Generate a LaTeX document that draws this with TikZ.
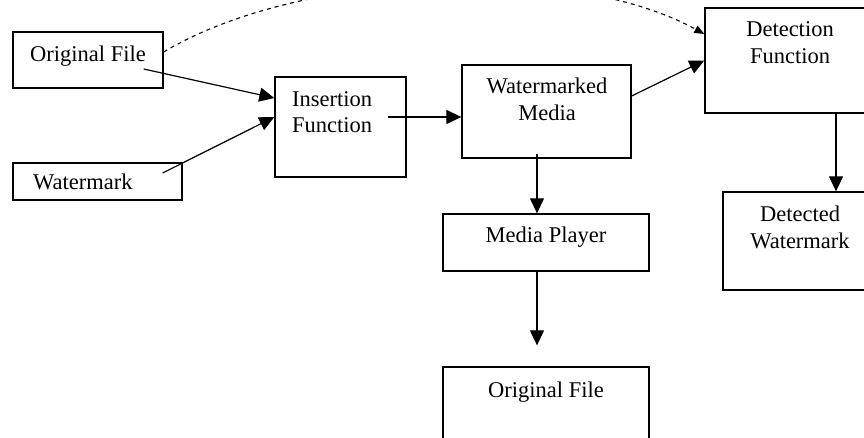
\documentclass[tikz,border=0pt]{standalone}
\usepackage{fontspec}
\setmainfont{Liberation Serif}
\usetikzlibrary{arrows.meta}
\begin{document}
\begin{tikzpicture}[x=1pt,y=-1pt,
  box/.style={draw,line width=1.3pt,inner sep=0pt},
  lbl/.style={inner sep=0pt,font=\fontsize{22.5}{26}\selectfont},
  arr/.style={line width=1.2pt,-{Triangle[length=15pt,width=14pt]}},
  darr/.style={line width=1.1pt,dash pattern=on 4pt off 4pt,-{Triangle[length=10pt,width=8pt]}}]
\path[use as bounding box, clip] (0,0) rectangle (864,438);
\fill[white] (0,0) rectangle (864,438);
% boxes
\node[box,minimum width=150pt,minimum height=56pt] (of1) at (88,60) {};
\node[box,minimum width=169pt,minimum height=37pt] (wm) at (97.5,181.5) {};
\node[box,minimum width=131pt,minimum height=100pt] (ins) at (340.5,127) {};
\node[box,minimum width=169pt,minimum height=93pt] (wmm) at (546.5,111.5) {};
\node[box,minimum width=175pt,minimum height=105pt] (det) at (792.5,60.5) {};
\node[box,minimum width=157pt,minimum height=98pt] (dw) at (801.5,241) {};
\node[box,minimum width=206pt,minimum height=57pt] (mp) at (546,242.5) {};
\node[box,minimum width=206pt,minimum height=103pt] (of2) at (546,418.5) {};
% labels
\node[lbl,anchor=base west] (t1) at (30,62) {Original File};
\node[lbl,anchor=base west] (t2) at (33,190) {Watermark};
\node[lbl,anchor=base west] (t3) at (292,107) {Insertion};
\node[lbl,anchor=base west] (t4) at (292,133) {Function};
\node[lbl,anchor=base] (t5) at (547,94) {Watermarked};
\node[lbl,anchor=base] (t6) at (547,121) {Media};
\node[lbl,anchor=base] (t7) at (790,37) {Detection};
\node[lbl,anchor=base] (t8) at (790,64) {Function};
\node[lbl,anchor=base] (t9) at (800,222) {Detected};
\node[lbl,anchor=base] (t10) at (800,248) {Watermark};
\node[lbl,anchor=base] (t11) at (546,243) {Media Player};
\node[lbl,anchor=base] (t12) at (546,397) {Original File};
% connectors
\draw[arr] ([xshift=-20pt,yshift=-9pt]of1.east) -- ([yshift=29pt]ins.west);
\draw[arr] ([xshift=-20pt,yshift=8.5pt]wm.east) -- ([yshift=10pt]ins.west);
\draw[arr] ([xshift=-19pt,yshift=10pt]ins.east) -- ([yshift=-5.5pt]wmm.west);
\draw[arr] ([yshift=15.5pt]wmm.east) -- (det.west);
\draw[arr] ([xshift=-9.5pt,yshift=5pt]wmm.south) -- ([xshift=-9pt]mp.north);
\draw[arr] ([xshift=-9pt]mp.south) -- ([xshift=-9pt,yshift=21pt]of2.north);
\draw[arr] ([xshift=43.5pt]det.south) -- ([xshift=34.5pt]dw.north);
\draw[darr] ([yshift=8pt]of1.east) .. controls +(137,-82) and +(-135,-74) .. ([yshift=26.5pt]det.west);
\end{tikzpicture}
\end{document}
